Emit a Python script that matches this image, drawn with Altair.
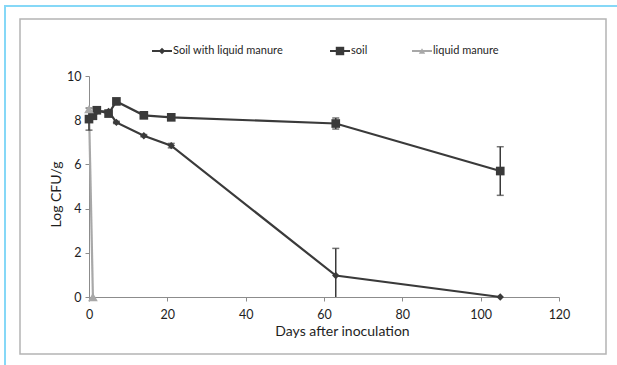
import altair as alt
import pandas as pd

# Survival of inoculated bacteria over time (log CFU per gram)
series_names = ["Soil with liquid manure", "soil", "liquid manure"]

manure_soil_days = [0, 1, 2, 5, 7, 14, 21, 63, 105]
manure_soil_log = [8.05, 8.25, 8.4, 8.4, 7.9, 7.3, 6.85, 0.97, 0.0]
manure_soil_err = [0.0, 0.0, 0.0, 0.0, 0.05, 0.05, 0.1, 1.23, 0.0]

soil_days = [0, 1, 2, 5, 7, 14, 21, 63, 105]
soil_log = [8.05, 8.2, 8.45, 8.3, 8.85, 8.22, 8.13, 7.85, 5.7]
soil_err = [0.5, 0.0, 0.0, 0.0, 0.0, 0.0, 0.0, 0.25, 1.1]

manure_days = [0, 1]
manure_log = [8.5, 0.0]
manure_err = [0.0, 0.0]

x_ticks = [0, 20, 40, 60, 80, 100, 120]
y_ticks = [0, 2, 4, 6, 8, 10]

rows = []
for name, days, vals, errs in [
    (series_names[0], manure_soil_days, manure_soil_log, manure_soil_err),
    (series_names[1], soil_days, soil_log, soil_err),
    (series_names[2], manure_days, manure_log, manure_err),
]:
    for d, v, e in zip(days, vals, errs):
        rows.append({"series": name, "day": d, "log": v,
                     "lo": max(0.0, v - e), "hi": v + e, "err": e})
df = pd.DataFrame(rows)

FONT = "Lato"
TEXT = "#1e1e1e"
colors = ["#3a3a3a", "#3a3a3a", "#a8a8a8"]
shapes = ["diamond", "square", "triangle-up"]
sizes = [55, 95, 55]
color_scale = alt.Scale(domain=series_names, range=colors)

x_enc = alt.X("day:Q", scale=alt.Scale(domain=[0, 120], nice=False, padding=0, zero=False),
              axis=alt.Axis(values=x_ticks, title="Days after inoculation",
                            labelFlush=False,
                            titleX=253, titleY=27, titleAnchor="middle",
                            titleBaseline="top"))
y_enc = alt.Y("log:Q", scale=alt.Scale(domain=[0, 10], nice=False, padding=0),
              axis=alt.Axis(values=y_ticks, title="Log CFU/g", titlePadding=3,
                            labelFlush=False, titleY=118))

base = alt.Chart(df)
col = alt.Color("series:N", scale=color_scale, legend=None)

lines = base.mark_line(strokeWidth=2.2).encode(
    x=x_enc, y=y_enc, color=col, detail="series:N",
)

err_df = base.transform_filter(alt.datum.err > 0)
err_rules = err_df.mark_rule(strokeWidth=1.5).encode(
    x="day:Q", y="lo:Q", y2="hi:Q", color=col,
)
err_caps_hi = err_df.mark_tick(orient="horizontal", size=7, thickness=1.5).encode(
    x="day:Q", y="hi:Q", color=col,
)
err_caps_lo = err_df.transform_filter(alt.datum.lo > 0).mark_tick(
    orient="horizontal", size=7, thickness=1.5).encode(
    x="day:Q", y="lo:Q", color=col,
)

points = base.mark_point(filled=True, opacity=1).encode(
    x="day:Q", y="log:Q",
    shape=alt.Shape("series:N", scale=alt.Scale(domain=series_names, range=shapes),
                    legend=None),
    color=col,
    size=alt.Size("series:N", scale=alt.Scale(domain=series_names, range=sizes),
                  legend=None),
)

# Legend row above the plot: short line, marker on it, then the label
one = pd.DataFrame({"k": [0]})
legend_left = [63, 241, 323]   # pixel offsets from the plot's left edge
legend_y = -25
legend_layers = []
for name, lx, c, shp, sz in zip(series_names, legend_left, colors, shapes, sizes):
    legend_layers.append(alt.Chart(one).mark_rule(stroke=c, strokeWidth=2, clip=False).encode(
        x=alt.value(lx), x2=alt.value(lx + 20), y=alt.value(legend_y)))
    legend_layers.append(alt.Chart(one).mark_point(
        filled=True, opacity=1, color=c, shape=shp, size=sz * 0.75, clip=False).encode(
        x=alt.value(lx + 10), y=alt.value(legend_y)))
    legend_layers.append(alt.Chart(one).mark_text(
        text=name, align="left", baseline="middle", font=FONT, fontSize=11,
        color=TEXT, clip=False).encode(
        x=alt.value(lx + 21), y=alt.value(legend_y)))

# Decorative frames around the figure
inner_box = alt.Chart(one).mark_rect(
    fill=None, stroke="#b4b4b4", strokeWidth=1.5, clip=False).encode(
    x=alt.value(-69), x2=alt.value(517), y=alt.value(-57), y2=alt.value(278))
outer_top = alt.Chart(one).mark_rule(
    stroke="#86d8f7", strokeWidth=2, clip=False).encode(
    x=alt.value(-85), x2=alt.value(528), y=alt.value(-70))
outer_left = alt.Chart(one).mark_rule(
    stroke="#86d8f7", strokeWidth=2, clip=False).encode(
    x=alt.value(-84), y=alt.value(-71), y2=alt.value(292))

chart = alt.layer(
    inner_box, outer_top, outer_left,
    lines, err_rules, err_caps_hi, err_caps_lo, points, *legend_layers,
).resolve_scale(
    shape="independent", size="independent",
).properties(
    width=470, height=221,
    autosize=alt.AutoSizeParams(type="none"),
    padding={"left": 89, "top": 76, "right": 58, "bottom": 68},
    background="white",
).configure_view(
    stroke=None,
).configure_axis(
    grid=False,
    domainColor="#8c8c8c",
    tickColor="#8c8c8c",
    tickSize=4,
    labelFont=FONT,
    labelFontSize=12.5,
    labelColor=TEXT,
    titleFont=FONT,
    titleFontSize=14,
    titleFontWeight="normal",
    titleColor=TEXT,
).configure_axisX(
    labelPadding=7,
).configure_axisY(
    labelPadding=4,
)

chart.save("out.html", embed_options={"renderer": "svg", "actions": False})
